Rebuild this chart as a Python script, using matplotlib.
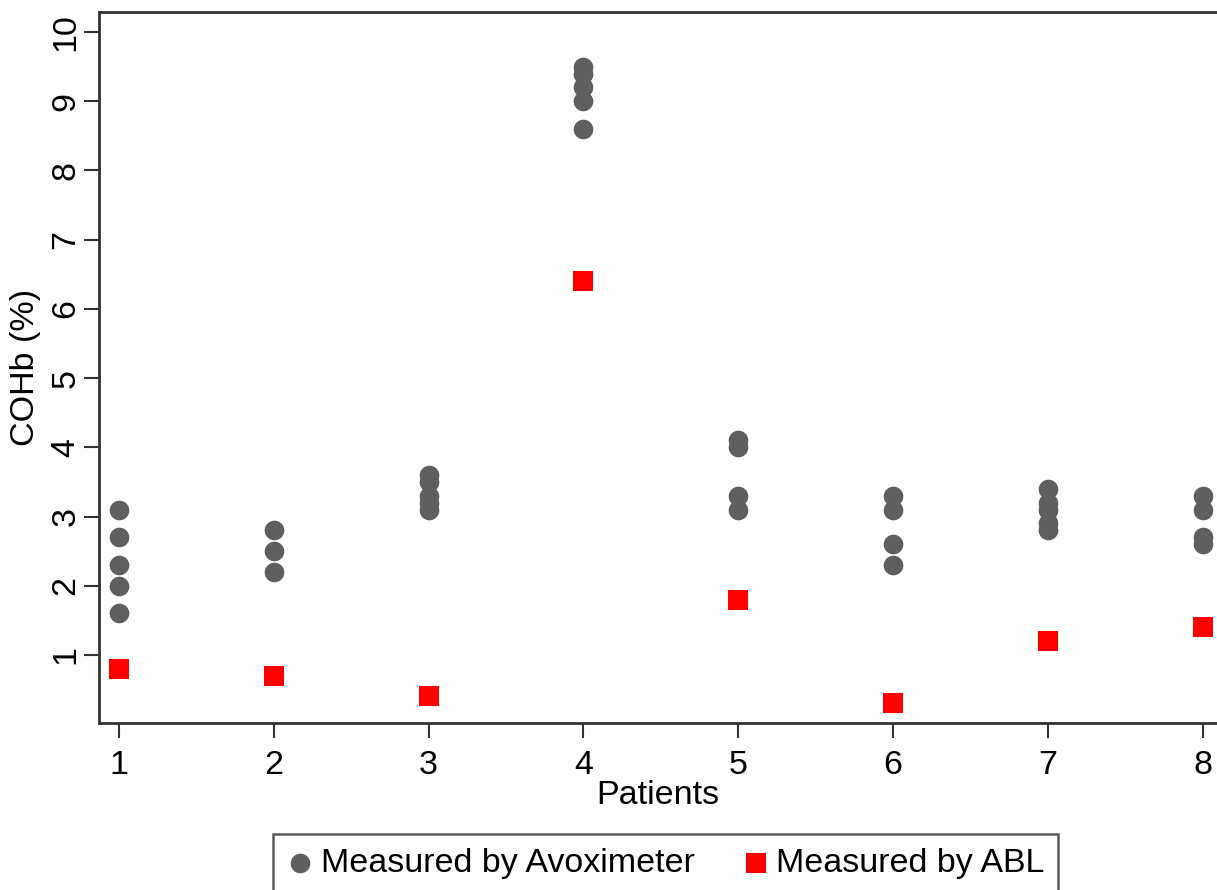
import numpy as np
import matplotlib.pyplot as plt

plt.rcParams['font.family'] = ['Liberation Sans', 'DejaVu Sans']

# Avoximeter readings per patient (several repeats each)
avox_patient = [1, 1, 1, 1, 1,
                2, 2, 2,
                3, 3, 3, 3, 3,
                4, 4, 4, 4, 4,
                5, 5, 5, 5,
                6, 6, 6, 6,
                7, 7, 7, 7, 7,
                8, 8, 8, 8]
avox_cohb = [3.1, 2.7, 2.3, 2.0, 1.6,
             2.8, 2.5, 2.2,
             3.6, 3.5, 3.3, 3.2, 3.1,
             9.5, 9.4, 9.2, 9.0, 8.6,
             4.1, 4.0, 3.3, 3.1,
             3.3, 3.1, 2.6, 2.3,
             3.4, 3.2, 3.1, 2.9, 2.8,
             3.3, 3.1, 2.7, 2.6]

# ABL reference value per patient
abl_patient = [1, 2, 3, 4, 5, 6, 7, 8]
abl_cohb = [0.8, 0.7, 0.4, 6.4, 1.8, 0.3, 1.2, 1.4]

fs = 24.5

fig = plt.figure(figsize=(12.17, 8.9), dpi=100)
ax = fig.add_axes([99/1217, 1 - 723/890, 1 - 99/1217, (723 - 12)/890])

ax.scatter(avox_patient, avox_cohb, s=200, marker='o', color='#5f5f5f',
           linewidths=0, label='Measured by Avoximeter', zorder=3)
ax.scatter(abl_patient, abl_cohb, s=190, marker='s', color='#ff0000',
           linewidths=0, label='Measured by ABL', zorder=3)

ax.set_xlim(0.871, 8.092)
ax.set_ylim(0.017, 10.29)
ax.set_xticks(range(1, 9))
ax.set_yticks(range(1, 11))
ax.tick_params(axis='both', labelsize=fs, length=10.5, width=1.5, color='#333333')
ax.tick_params(axis='x', pad=9)
ax.tick_params(axis='y', pad=2)
for lab in ax.get_yticklabels():
    lab.set_rotation(90)
    lab.set_va('center')

for s in ['left', 'bottom', 'top']:
    ax.spines[s].set_linewidth(2)
    ax.spines[s].set_color('#333333')
ax.spines['right'].set_visible(False)

ax.set_xlabel('Patients', fontsize=fs, labelpad=-1)
ax.set_ylabel('COHb (%)', fontsize=fs, labelpad=7)

leg = fig.legend(loc='upper left', bbox_to_anchor=(273/1217, 1 - 834/890),
                 ncol=2, fontsize=fs, frameon=True, fancybox=False,
                 borderaxespad=0, handletextpad=0.2, columnspacing=1.4,
                 borderpad=0.4, markerscale=1.0, handlelength=0.8)
leg.get_frame().set_edgecolor('#333333')
leg.get_frame().set_linewidth(1.8)

plt.savefig('out.png', dpi=100)
